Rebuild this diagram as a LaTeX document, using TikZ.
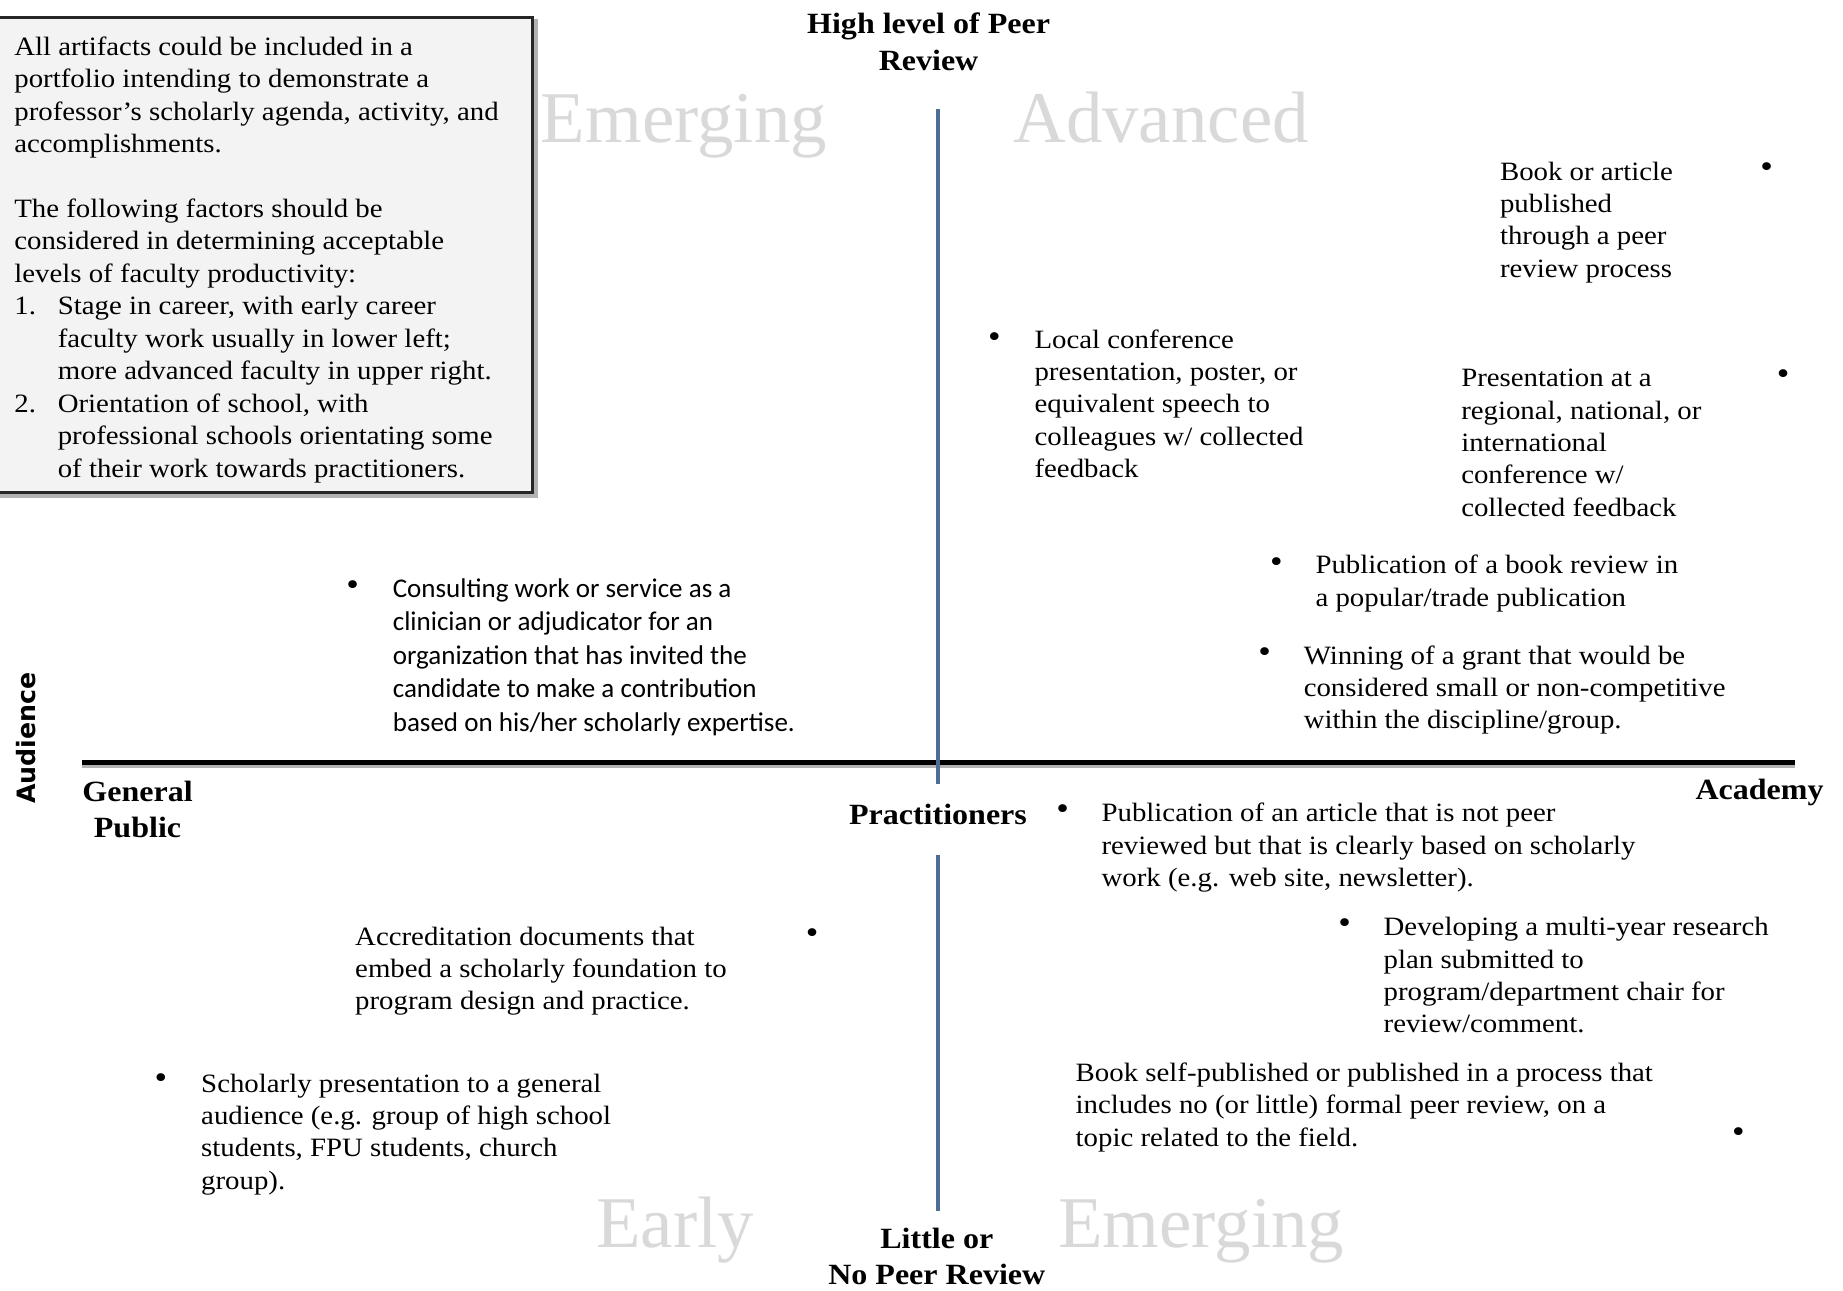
\documentclass[tikz,border=0pt]{standalone}
\usepackage{fontspec}
\setmainfont{Liberation Serif}[FakeStretch=1.09]
\newfontfamily\wmfont{Liberation Serif}
\newfontfamily\calfont{Carlito}
\newfontfamily\audfont{DejaVu Sans}
\definecolor{axisblue}{HTML}{4F6D94}
\definecolor{wmgray}{HTML}{D9D9D9}
\definecolor{boxfill}{HTML}{F3F3F3}
\begin{document}
\begin{tikzpicture}[x=1pt,y=-1pt,
  txt/.style={anchor=north west, inner sep=0pt, align=left, font=\fontsize{22.5}{27.5}\selectfont},
  caltxt/.style={anchor=north west, inner sep=0pt, align=left, font=\calfont\fontsize{23}{28.5}\selectfont},
  bul/.style={inner sep=0pt, font=\fontsize{28}{28}\selectfont},
  lbl/.style={inner sep=0pt, align=center, font=\bfseries\fontsize{25}{31}\selectfont},
  wm/.style={inner sep=0pt, anchor=base west, text=wmgray, font=\wmfont\fontsize{62}{62}\selectfont},
  hax/.style={line width=4pt, black},
  hshadow/.style={line width=3pt, black!30},
  vax/.style={line width=3.5pt, axisblue}]
\useasboundingbox (0,0) rectangle (1568,1098);

% info box
\draw[line width=4pt, black!30] (-5,18) -- (456,18) -- (456,422) -- (-5,422);
\draw[line width=3pt, black!85, fill=boxfill] (-5,15) rectangle (453,419);
\node[anchor=north west, inner sep=0pt, align=left, font=\fontsize{22.5}{27.6}\selectfont] (info) at (12,27.5)
{\strut All artifacts could be included in a\\
portfolio intending to demonstrate a\\
professor's scholarly agenda, activity, and\\
accomplishments.\\[27.6pt]
The following factors should be\\
considered in determining acceptable\\
levels of faculty productivity:\\
\makebox[37pt][l]{1.}Stage in career, with early career\\
\makebox[37pt]{}faculty work usually in lower left;\\
\makebox[37pt]{}more advanced faculty in upper right.\\
\makebox[37pt][l]{2.}Orientation of school, with\\
\makebox[37pt]{}professional schools orientating some\\
\makebox[37pt]{}of their work towards practitioners.};

% watermarks
\node[wm] (wmEmTop) at (460,121) {Emerging};
\node[wm] (wmAdv) at (862,121) {Advanced};
\node[wm] (wmEarly) at (507,1061) {Early};
\node[wm] (wmEmBot) at (900,1061) {Emerging};

% axes
\coordinate (hL) at (70,649);
\coordinate (hR) at (1527,649);
\coordinate (vT) at (798,93);
\coordinate (vM1) at (798,667);
\coordinate (vM2) at (798,727);
\coordinate (vB) at (798,1030);
\draw[hshadow] ([yshift=-3pt]hL) -- ([yshift=-3pt]hR);
\draw[hax] (hL) -- (hR);
\draw[vax] (vT) -- (vM1);
\draw[vax] (vM2) -- (vB);

% axis labels
\node[lbl] (high) at (790,35.5) {High level of Peer\\Review};
\node[lbl] (gen) at (117,688.5) {General\\Public};
\node[lbl] (acad) at (1497,674) {Academy};
\node[lbl] (prac) at (798,693) {Practitioners};
\node[lbl] (little) at (797,1069) {Little or\\No Peer Review};
\node[inner sep=0pt, rotate=90, font=\audfont\bfseries\fontsize{21.5}{24}\selectfont] (aud) at (22,628) {Audience};

% items
\node[txt] (t1) at (1276,133.75) {\strut Book or article\\published\\through a peer\\review process};
\node[bul] (d1) at (1503,145) {•};

\node[txt] (t2) at (880,276.75) {\strut Local conference\\presentation, poster, or\\equivalent speech to\\colleagues w/ collected\\feedback};
\node[bul] (d2) at (846,289) {•};

\node[txt] (t3) at (1243,309.75) {\strut Presentation at a\\regional, national, or\\international\\conference w/\\collected feedback};
\node[bul] (d3) at (1517,321) {•};

\node[txt] (t4) at (1119,468.75) {\strut Publication of a book review in\\a popular/trade publication};
\node[bul] (d4) at (1086,481) {•};

\node[txt] (t5) at (1109,545.75) {\strut Winning of a grant that would be\\considered small or non-competitive\\within the discipline/group.};
\node[bul] (d5) at (1076,557) {•};

\node[caltxt] (t6) at (334,488) {\strut Consulting work or service as a\\clinician or adjudicator for an\\organization that has invited the\\candidate to make a contribution\\based on his/her scholarly expertise.};
\node[bul] (d6) at (300,500) {•};

\node[txt] (t7) at (937,679.75) {\strut Publication of an article that is not peer\\reviewed but that is clearly based on scholarly\\work (e.g. web site, newsletter).};
\node[bul] (d7) at (904,691) {•};

\node[txt] (t8) at (1177,776.75) {\strut Developing a multi-year research\\plan submitted to\\program/department chair for\\review/comment.};
\node[bul] (d8) at (1144,788) {•};

\node[txt] (t9) at (302,784.75) {\strut Accreditation documents that\\embed a scholarly foundation to\\program design and practice.};
\node[bul] (d9) at (691,796) {•};

\node[txt] (t10) at (171,909.75) {\strut Scholarly presentation to a general\\audience (e.g. group of high school\\students, FPU students, church\\group).};
\node[bul] (d10) at (137,920) {•};

\node[txt] (t11) at (915,900.75) {\strut Book self-published or published in a process that\\includes no (or little) formal peer review, on a\\topic related to the field.};
\node[bul] (d11) at (1479,966) {•};
\end{tikzpicture}
\end{document}
